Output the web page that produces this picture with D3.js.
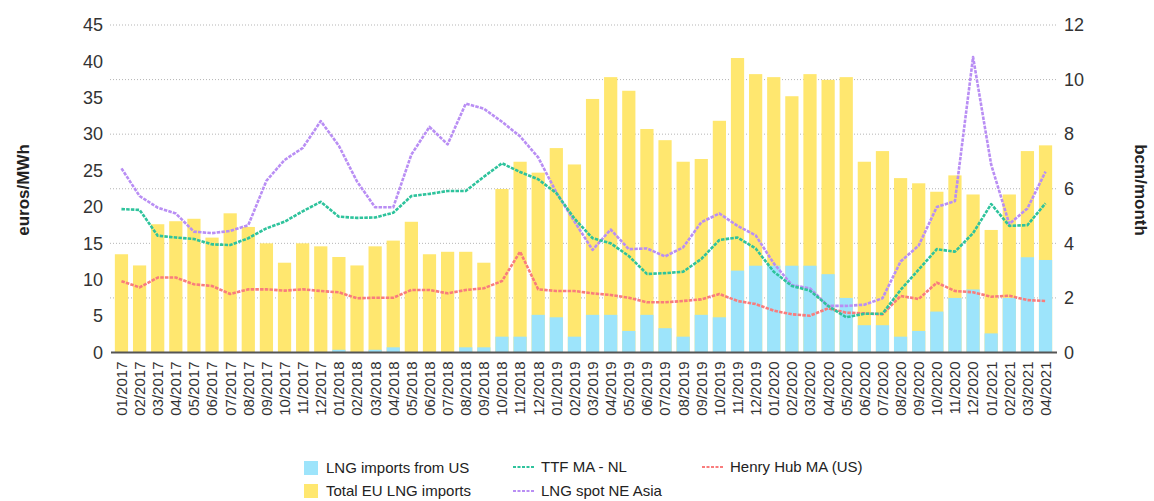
<!DOCTYPE html>
<html>
<head>
<meta charset="utf-8">
<script src="https://cdnjs.cloudflare.com/ajax/libs/d3/7.8.5/d3.min.js"></script>
<style>
  body { margin: 0; background: #fff; }
  svg text { font-family: "Liberation Sans", Arial, sans-serif; }
</style>
</head>
<body>
<svg id="canvas" width="1154" height="501"></svg>
<script>
// month labels on the x axis
let months = [
  '01/2017','02/2017','03/2017','04/2017','05/2017','06/2017','07/2017','08/2017','09/2017','10/2017','11/2017','12/2017',
  '01/2018','02/2018','03/2018','04/2018','05/2018','06/2018','07/2018','08/2018','09/2018','10/2018','11/2018','12/2018',
  '01/2019','02/2019','03/2019','04/2019','05/2019','06/2019','07/2019','08/2019','09/2019','10/2019','11/2019','12/2019',
  '01/2020','02/2020','03/2020','04/2020','05/2020','06/2020','07/2020','08/2020','09/2020','10/2020','11/2020','12/2020',
  '01/2021','02/2021','03/2021','04/2021'
];

// bars, bcm/month (right axis)
let totalImports = [
  3.60, 3.19, 4.70, 4.81, 4.90, 4.21, 5.10, 4.60, 4.00, 3.29, 4.00, 3.89,
  3.50, 3.19, 3.89, 4.10, 4.79, 3.60, 3.69, 3.69, 3.29, 5.99, 6.99, 6.59,
  7.49, 6.89, 9.29, 10.09, 9.59, 8.19, 7.78, 6.99, 7.09, 8.49, 10.79, 10.20,
  10.09, 9.39, 10.20, 9.99, 10.09, 6.99, 7.38, 6.39, 6.20, 5.89, 6.49, 5.79,
  4.49, 5.79, 7.38, 7.59
];
let usImports = [
  0, 0, 0, 0, 0, 0, 0, 0, 0, 0, 0, 0,
  0.10, 0, 0.10, 0.19, 0, 0, 0, 0.19, 0.19, 0.58, 0.58, 1.38,
  1.29, 0.58, 1.38, 1.38, 0.79, 1.38, 0.89, 0.58, 1.38, 1.29, 3.00, 3.18,
  3.18, 3.18, 3.18, 2.87, 2.00, 1.00, 1.00, 0.58, 0.79, 1.50, 2.00, 2.31,
  0.70, 2.00, 3.49, 3.39
];

// lines, euros/MWh (left axis)
let ttf = [
  19.7, 19.6, 16.05, 15.8, 15.6, 14.86, 14.77, 15.7, 17.06, 17.97, 19.4, 20.7,
  18.66, 18.5, 18.55, 19.2, 21.5, 21.8, 22.2, 22.2, 24.15, 26.0, 24.8, 23.8,
  21.9, 18.4, 15.7, 15.0, 13.26, 10.8, 10.9, 11.1, 12.85, 15.46, 15.8, 14.3,
  11.1, 9.14, 8.5, 6.4, 4.84, 5.33, 5.33, 8.6, 11.4, 14.2, 13.85, 16.4,
  20.4, 17.4, 17.5, 20.5
];
let lngAsia = [
  25.3, 21.5, 19.9, 19.1, 16.6, 16.4, 16.7, 17.5, 23.6, 26.45, 28.1, 31.8,
  28.4, 23.5, 19.95, 19.95, 27.2, 31.0, 28.6, 34.2, 33.5, 31.7, 29.7, 26.8,
  22.0, 18.0, 14.1, 16.9, 14.2, 14.3, 13.2, 14.45, 17.9, 19.1, 17.4, 16.1,
  12.25, 9.27, 8.8, 6.4, 6.4, 6.57, 7.45, 12.5, 14.7, 20.0, 20.8, 40.6,
  25.8, 17.65, 19.8, 24.85
];
let henryHub = [
  9.8, 8.95, 10.3, 10.3, 9.37, 9.14, 8.04, 8.68, 8.68, 8.5, 8.68, 8.45,
  8.27, 7.45, 7.53, 7.53, 8.59, 8.59, 8.13, 8.59, 8.82, 9.82, 13.85, 8.68,
  8.45, 8.45, 8.13, 7.9, 7.53, 6.9, 6.9, 7.08, 7.3, 8.04, 7.08, 6.66,
  5.75, 5.25, 5.06, 6.07, 5.47, 5.38, 5.24, 7.76, 7.35, 9.6, 8.45, 8.27,
  7.67, 7.8, 7.2, 7.08
];

let leftTicks = [0, 5, 10, 15, 20, 25, 30, 35, 40, 45];
let rightTicks = [0, 2, 4, 6, 8, 10, 12];

let canvas = d3.select('#canvas');

let plotLeft = 111, plotRight = 1056, plotTop = 25, plotBottom = 352.5;

let x = d3.scaleBand()
  .domain(months)
  .range([112.4, 1054.6])
  .paddingInner(0.27)
  .paddingOuter(0.135);
let yLeft = d3.scaleLinear().domain([0, 45]).range([plotBottom, plotTop]);
let yRight = d3.scaleLinear().domain([0, 12]).range([plotBottom, plotTop]);

// dotted gridlines from the right axis
canvas.append('g')
  .selectAll('line')
  .data(rightTicks.filter(t => t > 0))
  .enter()
  .append('line')
  .attr('x1', plotLeft - 1)
  .attr('x2', plotRight + 1)
  .attr('y1', d => yRight(d))
  .attr('y2', d => yRight(d))
  .attr('stroke', '#b5b5b5')
  .attr('stroke-width', 1)
  .attr('stroke-dasharray', '1,2');

// total EU imports (yellow) then US imports (blue) on top
canvas.append('g')
  .selectAll('rect')
  .data(totalImports)
  .enter()
  .append('rect')
  .attr('x', (d, i) => x(months[i]))
  .attr('width', x.bandwidth())
  .attr('y', d => yRight(d))
  .attr('height', d => plotBottom - yRight(d))
  .attr('fill', '#ffe76f');

canvas.append('g')
  .selectAll('rect')
  .data(usImports)
  .enter()
  .append('rect')
  .attr('x', (d, i) => x(months[i]))
  .attr('width', x.bandwidth())
  .attr('y', d => yRight(d))
  .attr('height', d => plotBottom - yRight(d))
  .attr('fill', '#9de4fb');

// baseline
canvas.append('line')
  .attr('x1', plotLeft)
  .attr('x2', plotRight + 1)
  .attr('y1', plotBottom)
  .attr('y2', plotBottom)
  .attr('stroke', '#555')
  .attr('stroke-width', 2);

// price lines
let series = [
  {values: lngAsia, color: '#b98ef4'},
  {values: henryHub, color: '#f97c7c'},
  {values: ttf, color: '#2ec39c'}
];
let line = d3.line()
  .x((d, i) => x(months[i]) + x.bandwidth() / 2)
  .y(d => yLeft(d));

series.forEach(s => {
  canvas.append('path')
    .datum(s.values)
    .attr('d', line)
    .attr('fill', 'none')
    .attr('stroke', s.color)
    .attr('stroke-width', 2.6)
    .attr('stroke-dasharray', '3.5,1.2')
    .attr('stroke-linejoin', 'round');
});

// axes
let leftAxis = canvas.append('g')
  .attr('transform', 'translate(' + plotLeft + ',0)')
  .call(d3.axisLeft(yLeft).tickValues(leftTicks).tickSize(0).tickPadding(8));
leftAxis.select('.domain').remove();
leftAxis.selectAll('text').attr('font-size', 18).attr('fill', '#333');

let rightAxis = canvas.append('g')
  .attr('transform', 'translate(' + plotRight + ',0)')
  .call(d3.axisRight(yRight).tickValues(rightTicks).tickSize(0).tickPadding(8));
rightAxis.select('.domain').remove();
rightAxis.selectAll('text').attr('font-size', 18).attr('fill', '#333');

let bottomAxis = canvas.append('g')
  .attr('transform', 'translate(0,' + plotBottom + ')')
  .call(d3.axisBottom(x).tickSize(0));
bottomAxis.select('.domain').remove();
bottomAxis.selectAll('text')
  .attr('font-size', 15)
  .attr('fill', '#333')
  .attr('transform', 'rotate(-90)')
  .attr('text-anchor', 'end')
  .attr('x', -9)
  .attr('y', 0)
  .attr('dy', '0.36em');

// axis titles
canvas.append('text')
  .attr('transform', 'translate(29,190) rotate(-90)')
  .attr('text-anchor', 'middle')
  .attr('font-size', 17)
  .attr('font-weight', 'bold')
  .attr('fill', '#222')
  .text('euros/MWh');

canvas.append('text')
  .attr('transform', 'translate(1135,190) rotate(90)')
  .attr('text-anchor', 'middle')
  .attr('font-size', 17)
  .attr('font-weight', 'bold')
  .attr('fill', '#222')
  .text('bcm/month');

// legend
let legend = canvas.append('g').attr('font-size', 15);
let boxes = [
  {label: 'LNG imports from US', color: '#9de4fb', x: 304, y: 468},
  {label: 'Total EU LNG imports', color: '#ffe76f', x: 304, y: 491}
];
boxes.forEach(b => {
  legend.append('rect')
    .attr('x', b.x).attr('y', b.y - 7)
    .attr('width', 14).attr('height', 14)
    .attr('fill', b.color);
  legend.append('text')
    .attr('x', b.x + 22).attr('y', b.y)
    .attr('dy', '0.35em')
    .attr('fill', '#222')
    .text(b.label);
});
let lineKeys = [
  {label: 'TTF MA - NL', color: '#2ec39c', x: 513, y: 467},
  {label: 'LNG spot NE Asia', color: '#b98ef4', x: 513, y: 491},
  {label: 'Henry Hub MA (US)', color: '#f97c7c', x: 702, y: 467}
];
lineKeys.forEach(k => {
  legend.append('line')
    .attr('x1', k.x).attr('x2', k.x + 22)
    .attr('y1', k.y).attr('y2', k.y)
    .attr('stroke', k.color)
    .attr('stroke-width', 2)
    .attr('stroke-dasharray', '3,1.5');
  legend.append('text')
    .attr('x', k.x + 28).attr('y', k.y)
    .attr('dy', '0.35em')
    .attr('fill', '#222')
    .text(k.label);
});
</script>
</body>
</html>
